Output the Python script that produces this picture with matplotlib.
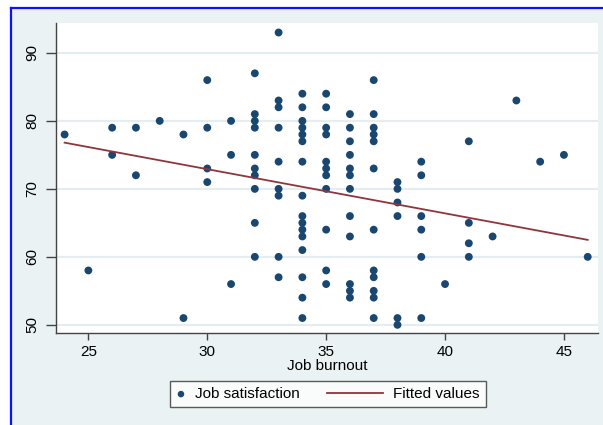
import numpy as np
import matplotlib
matplotlib.use("Agg")
import matplotlib.pyplot as plt
from matplotlib.patches import Rectangle
from matplotlib.lines import Line2D
from matplotlib.legend_handler import HandlerPathCollection

plt.rcParams['font.family'] = ['Liberation Sans', 'DejaVu Sans']

# job burnout -> job satisfaction values read per column
cols = {
    24: [78],
    25: [58],
    26: [79, 75],
    27: [79, 72],
    28: [80],
    29: [78, 51],
    30: [86, 79, 73, 71],
    31: [80, 75, 56],
    32: [87, 81, 80, 79, 75, 73, 72, 70, 65, 60],
    33: [93, 83, 82, 79, 74, 70, 69, 60, 57],
    34: [84, 82, 80, 79, 78, 77, 74, 69, 66, 65, 64, 63, 61, 57, 54, 51],
    35: [84, 82, 79, 78, 74, 73, 72, 70, 64, 58, 56],
    36: [81, 79, 77, 75, 73, 72, 70, 66, 63, 56, 55, 54],
    37: [86, 81, 79, 78, 77, 73, 64, 58, 57, 55, 54, 51],
    38: [71, 70, 68, 66, 51, 50],
    39: [74, 72, 66, 64, 60, 51],
    40: [56],
    41: [77, 65, 62, 60],
    42: [63],
    43: [83],
    44: [74],
    45: [75],
    46: [60],
}
burnout = []
satisfaction = []
for k, v in cols.items():
    burnout += [k] * len(v)
    satisfaction += v
burnout = np.array(burnout)
satisfaction = np.array(satisfaction)

# fitted line endpoints
fit_x = [24, 46]
fit_y = [76.8, 62.5]

navy = '#1a476f'
maroon = '#90353b'
bg = '#eaf2f3'


class NarrowDot(HandlerPathCollection):
    # scatter handle gets a narrow box, the line keeps the long one
    def legend_artist(self, legend, orig_handle, fontsize, handlebox):
        handlebox.width = 7
        return super().legend_artist(legend, orig_handle, fontsize, handlebox)


fig = plt.figure(figsize=(6.03, 4.25), dpi=100)
fig.patch.set_facecolor('white')
W, H = 603, 425
fig.patches.append(Rectangle((12 / W, 0), 1, 1 - 9 / H, transform=fig.transFigure,
                             facecolor=bg, edgecolor='none', zorder=-10))
fig.lines.append(Line2D([11 / W, 1], [1 - 7.7 / H] * 2, transform=fig.transFigure,
                        color='#1010ff', lw=1.6))
fig.lines.append(Line2D([11 / W] * 2, [0, 1 - 7.7 / H], transform=fig.transFigure,
                        color='#1010ff', lw=1.6))

ax = fig.add_axes([55.8 / W, 1 - 333 / H, (597.7 - 55.8) / W, (333 - 23) / H])
ax.set_facecolor('white')
ax.set_xlim(23.63, 46.42)
ax.set_ylim(48.8, 94.4)

sc = ax.scatter(burnout, satisfaction, s=32, color=navy, edgecolors='none', zorder=3,
                label='Job satisfaction')
ax.plot(fit_x, fit_y, color=maroon, lw=1.3, zorder=4, label='Fitted values')

ax.set_xticks([25, 30, 35, 40, 45])
ax.set_yticks([50, 60, 70, 80, 90])
ax.grid(axis='y', color='#e4eef0', lw=1.6)
ax.set_axisbelow(True)
for s in ['top', 'right']:
    ax.spines[s].set_visible(False)
for s in ['left', 'bottom']:
    ax.spines[s].set_color('#444444')
    ax.spines[s].set_linewidth(1.0)
ax.tick_params(axis='x', length=5, width=1, color='#444444', labelsize=11, pad=4)
ax.tick_params(axis='y', length=7, width=1, color='#444444', labelsize=11, pad=5)
for lbl in ax.get_yticklabels():
    lbl.set_rotation(90)
    lbl.set_va('center')
ax.set_xlabel('Job burnout', fontsize=11, labelpad=0)

leg = ax.legend(loc='upper left', bbox_to_anchor=(170 / W, 1 - 381 / H),
                bbox_transform=fig.transFigure, ncol=2,
                frameon=True, fancybox=False, fontsize=11, handlelength=3.7,
                columnspacing=1.75, borderpad=0.4, borderaxespad=0,
                handletextpad=0.63, handler_map={sc: NarrowDot()})
leg.get_frame().set_edgecolor('#333333')
leg.get_frame().set_linewidth(1.0)
leg.legend_handles[0].set_sizes([22])

fig.savefig('out.png', dpi=100, facecolor=fig.get_facecolor())
